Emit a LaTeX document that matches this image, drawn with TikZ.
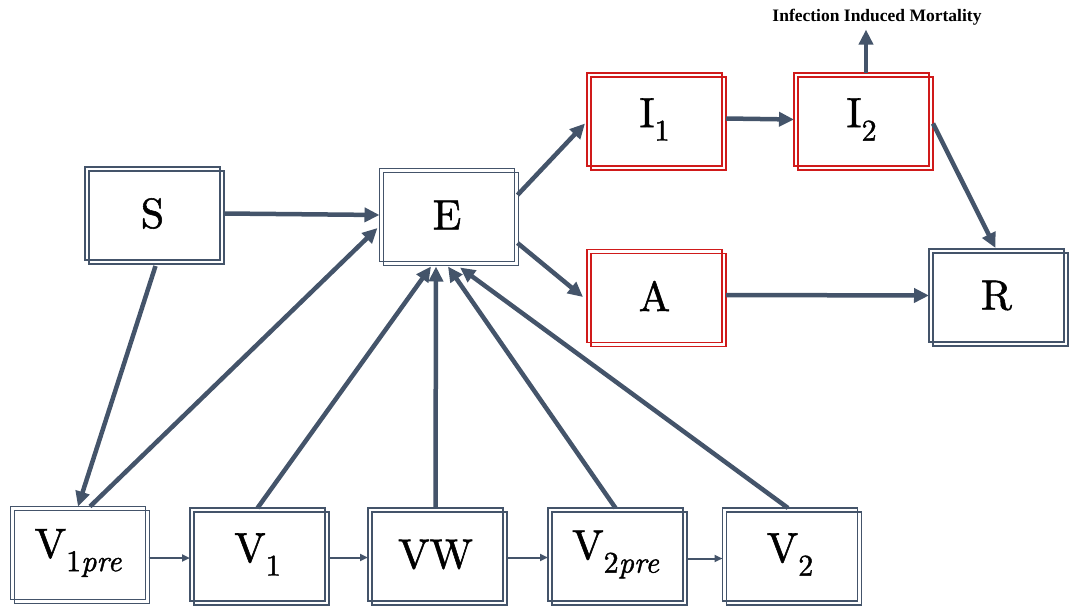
\documentclass[tikz,border=0pt]{standalone}
\usepackage{fontspec}
\newfontfamily\labelfont{Liberation Serif}
\newfontfamily\boxfont[FakeBold=1.3,ItalicFont=lmroman10-italic.otf,
  ItalicFeatures={FakeBold=1.3}]{lmroman10-regular.otf}
\usetikzlibrary{arrows.meta,calc}
\definecolor{slate}{HTML}{44546A}
\definecolor{hot}{HTML}{D01A1A}
% lowered index for compartment names
\newcommand\lowidx[1]{\raisebox{-0.32em}{\fontsize{30}{31}\selectfont #1}}

\begin{document}
\begin{tikzpicture}[x=1pt,y=-1pt,
  box/.style={draw=slate, line width=1.8pt, minimum width=135pt, minimum height=93pt,
    inner sep=0pt, outer sep=0pt, font=\boxfont\fontsize{42}{50}\selectfont},
  hotbox/.style={box, draw=hot},
  flow/.style={draw=slate, line width=4.5pt, -{Triangle[length=15pt,width=14pt]}},
  link/.style={draw=slate, line width=2pt, -{Triangle[length=8pt,width=7pt]}}
]
\useasboundingbox (0,0) rectangle (1069,607);

% compartments
\node[box] (S) at (152.5,213.5) {S};
\node[box] (E) at (447,215) {E};
\node[hotbox] (I1) at (654.5,119.5) {I\lowidx{1}};
\node[hotbox] (I2) at (861.5,119.5) {I\lowidx{2}};
\node[hotbox] (A) at (654.5,296) {A};
\node[box] (R) at (996.5,295.5) {R};
\node[box] (V1pre) at (78,553) {V\lowidx{1\itshape pre}};
\node[box] (V1) at (257.5,554.5) {V\lowidx{1}};
\node[box] (VW) at (435.5,554.5) {VW};
\node[box] (V2pre) at (615.5,554.5) {V\lowidx{2\itshape pre}};
\node[box] (V2) at (790,554.5) {V\lowidx{2}};

% second, offset frame of each compartment
\foreach \n/\c in {S/slate,E/slate,I1/hot,I2/hot,A/hot,R/slate,V1pre/slate,V1/slate,VW/slate,V2pre/slate,V2/slate}
  \draw[draw=\c, line width=1.8pt] ($(\n.south west)+(4,4)$) rectangle ($(\n.north east)+(4,4)$);

\node[font=\labelfont\bfseries\fontsize{17.5}{20}\selectfont] (mort) at (877,17) {Infection Induced Mortality};

% transitions
\draw[flow] ($(S.east)+(4,0)$) -- (E.west);
\draw[flow] ($(S.south)+(3,6)$) -- (V1pre.north);
\draw[flow] ($(V1pre.north)+(12,0)$) -- ($(E.west)+(-2,13)$);
\draw[flow] (V1.north) -- ($(E.south)+(-16,5)$);
\draw[flow] (VW.north) -- ($(E.south)+(-11,5)$);
\draw[flow] (V2pre.north) -- ($(E.south)+(1,5)$);
\draw[flow] ($(V2.north)+(-2,0)$) -- ($(E.south)+(13,6)$);
\draw[flow] ($(E.east)+(3,-20)$) -- ($(I1.west)+(-2,4)$);
\draw[flow] ($(E.east)+(3,28)$) -- ($(A.west)+(-4,1)$);
\draw[flow] ($(I1.east)+(4,-1)$) -- (I2.west);
\draw[flow] ($(I2.east)+(4,4)$) -- ($(R.north)+(-1,-1)$);
\draw[flow] ($(A.east)+(4,-1)$) -- (R.west);
\coordinate (up0) at ($(I2.north)+(4.5,0)$);
\draw[flow, shorten >=1pt] (up0) -- (up0 |- mort.south);

% vaccination chain
\coordinate (c1) at ($(V1pre.east)+(3,5)$);
\coordinate (c2) at ($(V1.east)+(3,3)$);
\coordinate (c3) at ($(VW.east)+(4,3)$);
\coordinate (c4) at ($(V2pre.east)+(5,4)$);
\draw[link] (c1) -- (c1 -| V1.west);
\draw[link] (c2) -- (c2 -| VW.west);
\draw[link] (c3) -- (c3 -| V2pre.west);
\draw[link] (c4) -- (c4 -| V2.west);
\end{tikzpicture}
\end{document}
